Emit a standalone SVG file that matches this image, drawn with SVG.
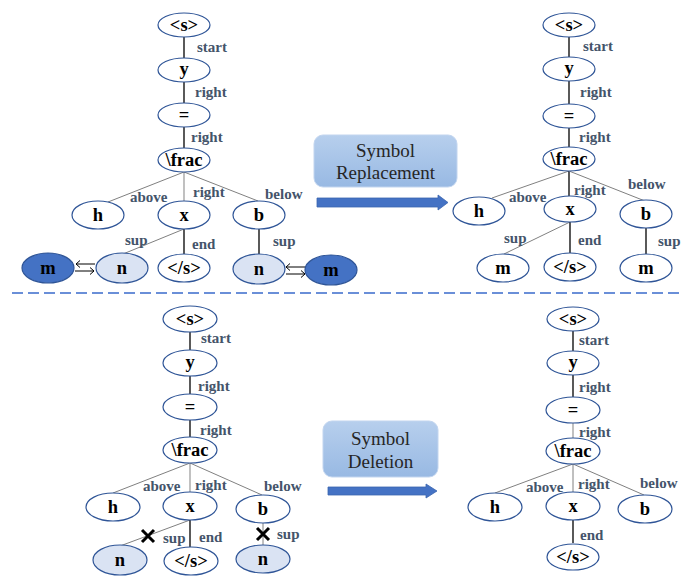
<svg xmlns="http://www.w3.org/2000/svg" width="681" height="579" viewBox="0 0 681 579">
  <defs>
    <linearGradient id="boxGrad" x1="0" y1="0" x2="0" y2="1">
      <stop offset="0" stop-color="#b7cfed"/>
      <stop offset="1" stop-color="#98b9e3"/>
    </linearGradient>
  </defs>
  <style>
    text { font-family: 'Liberation Serif', 'DejaVu Serif', serif; }
    .node ellipse { fill: #ffffff; stroke: #2f5597; stroke-width: 1.2; }
    .node.light ellipse { fill: #dae3f3; }
    .node.dark ellipse { fill: #4472c4; }
    .node text { font-weight: bold; font-size: 18.5px; fill: #000; text-anchor: middle; }
    .lbl { font-weight: bold; font-size: 15px; fill: #44546a; }
    .dark-edge { stroke: #000; stroke-width: 1.3; fill: none; }
    .gray-edge { stroke: #808080; stroke-width: 1; fill: none; }
    .light-edge { stroke: #a6a6a6; stroke-width: 1.4; fill: none; }
    .swap { stroke: #000; stroke-width: 1; fill: none; }
    .op-box { fill: url(#boxGrad); stroke: #c2d5ef; stroke-width: 1; }
    .op-text { font-size: 19px; fill: #262626; text-anchor: middle; }
    .op-arrow { fill: #4472c4; stroke: #3a64ae; stroke-width: 0.8; }
    .cross { stroke: #000; stroke-width: 3; stroke-linecap: butt; }
  </style>

  <!-- divider between the two examples -->
  <line x1="12" y1="293" x2="681" y2="293" stroke="#6a8fd8" stroke-width="2" stroke-dasharray="11 5"/>

  <!-- ===== connectors ===== -->
  <g id="connectors">
    <!-- replacement: source tree -->
    <line class="dark-edge" x1="184" y1="37" x2="184" y2="58"/>
    <line class="dark-edge" x1="184" y1="82" x2="184" y2="103"/>
    <line class="dark-edge" x1="184" y1="127" x2="184" y2="148"/>
    <line class="gray-edge" x1="184" y1="172" x2="108" y2="202"/>
    <line class="light-edge" x1="184" y1="172" x2="184" y2="201"/>
    <line class="gray-edge" x1="184" y1="172" x2="258" y2="201"/>
    <line class="gray-edge" x1="184" y1="229" x2="123" y2="254"/>
    <line class="dark-edge" x1="184" y1="229" x2="184" y2="254"/>
    <line class="dark-edge" x1="259" y1="229" x2="259" y2="254"/>
    <!-- swap arrows: upper one points left, lower one points right -->
    <path class="swap" d="M95,264 L76,264 M80,260.5 L76,264 L80,267.5"/>
    <path class="swap" d="M75,271 L94,271 M90,267.5 L94,271 L90,274.5"/>
    <path class="swap" d="M305,267 L286,267 M290,263.5 L286,267 L290,270.5"/>
    <path class="swap" d="M286,274 L305,274 M301,270.5 L305,274 L301,277.5"/>

    <!-- replacement: result tree -->
    <line class="dark-edge" x1="569" y1="37" x2="569" y2="57"/>
    <line class="dark-edge" x1="569" y1="81" x2="569" y2="104"/>
    <line class="dark-edge" x1="569" y1="128" x2="569" y2="147"/>
    <line class="gray-edge" x1="569" y1="171" x2="492" y2="198"/>
    <line class="dark-edge" x1="569" y1="171" x2="569" y2="196"/>
    <line class="gray-edge" x1="569" y1="171" x2="645" y2="201"/>
    <line class="gray-edge" x1="570" y1="222" x2="504" y2="254"/>
    <line class="dark-edge" x1="570" y1="222" x2="570" y2="254"/>
    <line class="dark-edge" x1="646" y1="228" x2="646" y2="254"/>

    <!-- deletion: source tree -->
    <line class="dark-edge" x1="190" y1="332" x2="190" y2="350"/>
    <line class="dark-edge" x1="190" y1="376" x2="190" y2="394"/>
    <line class="dark-edge" x1="190" y1="420" x2="190" y2="437"/>
    <line class="gray-edge" x1="190" y1="463" x2="113" y2="493"/>
    <line class="light-edge" x1="190" y1="463" x2="190" y2="492"/>
    <line class="gray-edge" x1="190" y1="463" x2="262" y2="495"/>
    <line class="gray-edge" x1="190" y1="520" x2="120" y2="546"/>
    <line class="dark-edge" x1="190" y1="520" x2="190" y2="547"/>
    <line class="gray-edge" x1="263" y1="523" x2="263" y2="545"/>
    <!-- removed relations -->
    <path class="cross" d="M142,530 L154,542 M154,530 L142,542"/>
    <path class="cross" d="M257,528 L269,540 M269,528 L257,540"/>

    <!-- deletion: result tree -->
    <line class="dark-edge" x1="573" y1="331" x2="573" y2="351"/>
    <line class="dark-edge" x1="573" y1="375" x2="573" y2="397"/>
    <line class="light-edge" x1="573" y1="423" x2="573" y2="438"/>
    <line class="gray-edge" x1="573" y1="464" x2="495" y2="493"/>
    <line class="gray-edge" x1="573" y1="464" x2="573" y2="492"/>
    <line class="gray-edge" x1="573" y1="464" x2="644" y2="495"/>
    <line class="dark-edge" x1="573" y1="520" x2="573" y2="543"/>
  </g>

  <!-- ===== edge labels ===== -->
  <g id="edge-labels">
    <text class="lbl" x="197" y="52">start</text>
    <text class="lbl" x="195" y="97">right</text>
    <text class="lbl" x="191" y="142">right</text>
    <text class="lbl" x="130" y="202">above</text>
    <text class="lbl" x="193" y="197">right</text>
    <text class="lbl" x="265" y="199">below</text>
    <text class="lbl" x="125" y="245">sup</text>
    <text class="lbl" x="192" y="249">end</text>
    <text class="lbl" x="273" y="246">sup</text>

    <text class="lbl" x="583" y="51">start</text>
    <text class="lbl" x="580" y="97">right</text>
    <text class="lbl" x="579" y="142">right</text>
    <text class="lbl" x="509" y="202">above</text>
    <text class="lbl" x="574" y="195">right</text>
    <text class="lbl" x="628" y="189">below</text>
    <text class="lbl" x="504" y="243">sup</text>
    <text class="lbl" x="578" y="245">end</text>
    <text class="lbl" x="658" y="246">sup</text>

    <text class="lbl" x="201" y="343">start</text>
    <text class="lbl" x="198" y="391">right</text>
    <text class="lbl" x="200" y="435">right</text>
    <text class="lbl" x="143" y="491">above</text>
    <text class="lbl" x="195" y="490">right</text>
    <text class="lbl" x="264" y="491">below</text>
    <text class="lbl" x="163" y="543">sup</text>
    <text class="lbl" x="199" y="542">end</text>
    <text class="lbl" x="277" y="539">sup</text>

    <text class="lbl" x="579" y="345">start</text>
    <text class="lbl" x="579" y="392">right</text>
    <text class="lbl" x="579" y="437">right</text>
    <text class="lbl" x="526" y="492">above</text>
    <text class="lbl" x="578" y="489">right</text>
    <text class="lbl" x="640" y="488">below</text>
    <text class="lbl" x="580" y="540">end</text>
  </g>

  <!-- ===== operation boxes and arrows ===== -->
  <g id="op-replacement">
    <rect class="op-box" x="314" y="135" width="143" height="52" rx="9"/>
    <text class="op-text" x="385.5" y="157">Symbol</text>
    <text class="op-text" x="385.5" y="179">Replacement</text>
    <path class="op-arrow" d="M317,198 L438,198 L438,195 L448,202.5 L438,210 L438,207 L317,207 Z"/>
  </g>
  <g id="op-deletion">
    <rect class="op-box" x="323" y="421" width="115" height="56" rx="9"/>
    <text class="op-text" x="380.5" y="445">Symbol</text>
    <text class="op-text" x="380.5" y="468">Deletion</text>
    <path class="op-arrow" d="M328,487 L426,487 L426,484 L437,491 L426,498 L426,495 L328,495 Z"/>
  </g>

  <!-- ===== replacement: source tree nodes ===== -->
  <g id="r1-s" class="node"><ellipse cx="184" cy="25" rx="26" ry="12"/><text x="184" y="31">&lt;s&gt;</text></g>
  <g id="r1-y" class="node"><ellipse cx="184" cy="70" rx="26" ry="12"/><text x="184" y="75">y</text></g>
  <g id="r1-eq" class="node"><ellipse cx="184" cy="115" rx="26" ry="12"/><text x="184" y="121">=</text></g>
  <g id="r1-frac" class="node"><ellipse cx="184" cy="160" rx="26" ry="12"/><text x="184" y="166">\frac</text></g>
  <g id="r1-h" class="node"><ellipse cx="98" cy="215" rx="26" ry="14"/><text x="98" y="221">h</text></g>
  <g id="r1-x" class="node"><ellipse cx="184" cy="215" rx="26" ry="14"/><text x="184" y="221">x</text></g>
  <g id="r1-b" class="node"><ellipse cx="259" cy="215" rx="26" ry="14"/><text x="259" y="221">b</text></g>
  <g id="r1-m1" class="node dark"><ellipse cx="48" cy="268" rx="26" ry="15"/><text x="48" y="274">m</text></g>
  <g id="r1-n1" class="node light"><ellipse cx="122" cy="268" rx="26" ry="15"/><text x="122" y="274">n</text></g>
  <g id="r1-end" class="node"><ellipse cx="184" cy="268" rx="26" ry="14"/><text x="184" y="274">&lt;/s&gt;</text></g>
  <g id="r1-n2" class="node light"><ellipse cx="259" cy="269" rx="26" ry="15"/><text x="259" y="275">n</text></g>
  <g id="r1-m2" class="node dark"><ellipse cx="331" cy="270" rx="26" ry="15"/><text x="331" y="276">m</text></g>

  <!-- ===== replacement: result tree nodes ===== -->
  <g id="r2-s" class="node"><ellipse cx="569" cy="25" rx="26" ry="12"/><text x="569" y="31">&lt;s&gt;</text></g>
  <g id="r2-y" class="node"><ellipse cx="569" cy="69" rx="26" ry="12"/><text x="569" y="74">y</text></g>
  <g id="r2-eq" class="node"><ellipse cx="569" cy="116" rx="26" ry="12"/><text x="569" y="122">=</text></g>
  <g id="r2-frac" class="node"><ellipse cx="569" cy="159" rx="26" ry="12"/><text x="569" y="165">\frac</text></g>
  <g id="r2-h" class="node"><ellipse cx="479" cy="211" rx="26" ry="14"/><text x="479" y="217">h</text></g>
  <g id="r2-x" class="node"><ellipse cx="570" cy="209" rx="26" ry="13"/><text x="570" y="215">x</text></g>
  <g id="r2-b" class="node"><ellipse cx="646" cy="214" rx="26" ry="14"/><text x="646" y="220">b</text></g>
  <g id="r2-m1" class="node"><ellipse cx="503" cy="268" rx="26" ry="14"/><text x="503" y="274">m</text></g>
  <g id="r2-end" class="node"><ellipse cx="570" cy="267" rx="26" ry="14"/><text x="570" y="273">&lt;/s&gt;</text></g>
  <g id="r2-m2" class="node"><ellipse cx="646" cy="268" rx="26" ry="14"/><text x="646" y="274">m</text></g>

  <!-- ===== deletion: source tree nodes ===== -->
  <g id="d1-s" class="node"><ellipse cx="190" cy="319" rx="27" ry="13"/><text x="190" y="325">&lt;s&gt;</text></g>
  <g id="d1-y" class="node"><ellipse cx="190" cy="363" rx="27" ry="13"/><text x="190" y="368">y</text></g>
  <g id="d1-eq" class="node"><ellipse cx="190" cy="407" rx="27" ry="13"/><text x="190" y="413">=</text></g>
  <g id="d1-frac" class="node"><ellipse cx="190" cy="450" rx="27" ry="13"/><text x="190" y="456">\frac</text></g>
  <g id="d1-h" class="node"><ellipse cx="113" cy="507" rx="27" ry="14"/><text x="113" y="513">h</text></g>
  <g id="d1-x" class="node"><ellipse cx="190" cy="506" rx="27" ry="14"/><text x="190" y="512">x</text></g>
  <g id="d1-b" class="node"><ellipse cx="263" cy="509" rx="27" ry="14"/><text x="263" y="515">b</text></g>
  <g id="d1-n1" class="node light"><ellipse cx="120" cy="560" rx="27" ry="15"/><text x="120" y="566">n</text></g>
  <g id="d1-end" class="node"><ellipse cx="191" cy="561" rx="27" ry="14"/><text x="191" y="567">&lt;/s&gt;</text></g>
  <g id="d1-n2" class="node light"><ellipse cx="263" cy="559" rx="27" ry="14"/><text x="263" y="565">n</text></g>

  <!-- ===== deletion: result tree nodes ===== -->
  <g id="d2-s" class="node"><ellipse cx="573" cy="319" rx="26" ry="12"/><text x="573" y="325">&lt;s&gt;</text></g>
  <g id="d2-y" class="node"><ellipse cx="573" cy="363" rx="26" ry="12"/><text x="573" y="368">y</text></g>
  <g id="d2-eq" class="node"><ellipse cx="573" cy="410" rx="27" ry="13"/><text x="573" y="416">=</text></g>
  <g id="d2-frac" class="node"><ellipse cx="573" cy="451" rx="27" ry="13"/><text x="573" y="457">\frac</text></g>
  <g id="d2-h" class="node"><ellipse cx="495" cy="507" rx="27" ry="14"/><text x="495" y="513">h</text></g>
  <g id="d2-x" class="node"><ellipse cx="573" cy="506" rx="27" ry="14"/><text x="573" y="512">x</text></g>
  <g id="d2-b" class="node"><ellipse cx="645" cy="509" rx="27" ry="14"/><text x="645" y="515">b</text></g>
  <g id="d2-end" class="node"><ellipse cx="573" cy="557" rx="26" ry="13"/><text x="573" y="563">&lt;/s&gt;</text></g>
</svg>
